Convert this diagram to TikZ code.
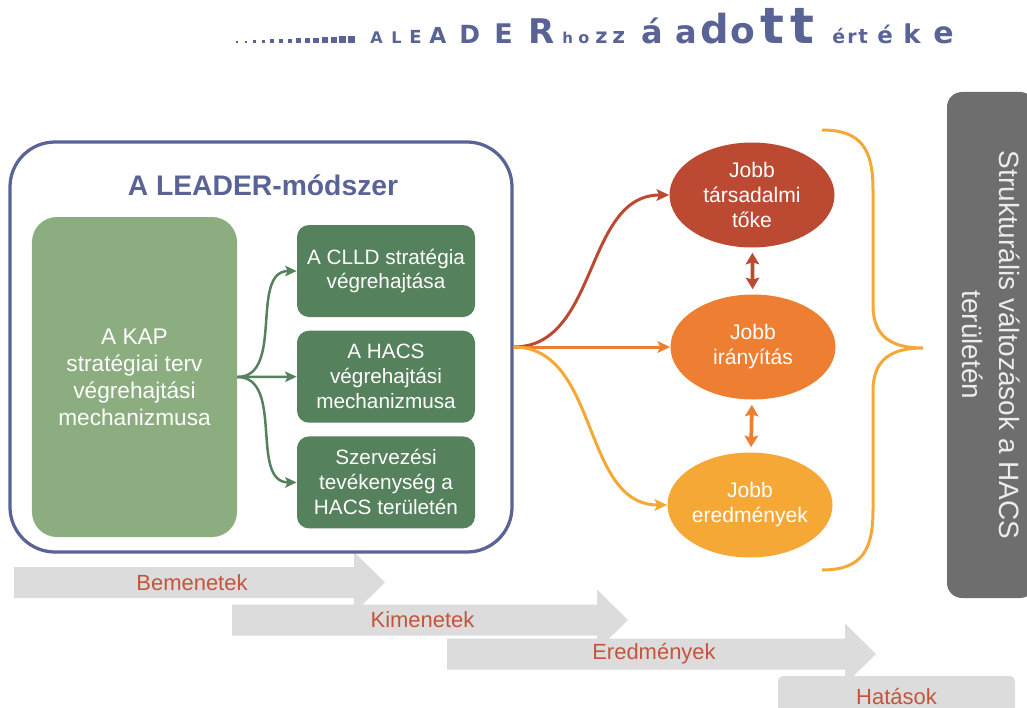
\documentclass[tikz,border=0pt]{standalone}
\usepackage{fontspec}
\setmainfont{Liberation Sans}
\newfontfamily\titlefont{DejaVu Sans}
\usetikzlibrary{shapes.geometric, arrows.meta, positioning, calc}

\definecolor{leaderblue}{RGB}{89, 99, 150}
\definecolor{kapgreen}{RGB}{139, 173, 127}
\definecolor{stepgreen}{RGB}{86, 129, 93}
\definecolor{tokered}{RGB}{188, 74, 51}
\definecolor{iranyorange}{RGB}{238, 126, 49}
\definecolor{eredyellow}{RGB}{245, 168, 53}
\definecolor{hacsgray}{RGB}{110, 110, 110}
\definecolor{hacstext}{RGB}{236, 236, 236}
\definecolor{phasegray}{RGB}{220, 220, 220}
\definecolor{phasered}{RGB}{197, 84, 62}

\begin{document}
\begin{tikzpicture}[
                x=0.2mm, y=-0.2mm,
                method/.style={rectangle, rounded corners=9mm, draw=leaderblue, line width=0.65mm, minimum width=100.4mm, minimum height=82mm, inner sep=0pt},
                methodtitle/.style={text=leaderblue, font=\fontsize{16.1}{19}\selectfont\bfseries},
                kap/.style={rectangle, rounded corners=5mm, fill=kapgreen, text=white, align=center, minimum width=41mm, minimum height=64mm, font=\fontsize{12.9}{15.4}\selectfont},
                stepbox/.style={rectangle, rounded corners=2.4mm, fill=stepgreen, text=white, align=center, minimum width=35.6mm, minimum height=18.4mm, inner sep=1pt, font=\fontsize{11.8}{14.2}\selectfont},
                outcome/.style={ellipse, text=white, align=center, minimum width=33mm, minimum height=21mm, inner sep=0pt, font=\fontsize{12}{14.2}\selectfont},
                hacsbox/.style={rectangle, rounded corners=3mm, fill=hacsgray, text=hacstext, align=center, rotate=-90, minimum width=101.2mm, minimum height=17.6mm, font=\fontsize{15.9}{21}\selectfont},
                phaselabel/.style={text=phasered, font=\fontsize{12.5}{14}\selectfont},
                hatasbox/.style={rectangle, rounded corners=1mm, fill=phasegray, text=phasered, minimum width=47.4mm, minimum height=8.4mm, font=\fontsize{12.5}{14}\selectfont},
                branch/.style={line width=0.5mm, draw=stepgreen, -{Stealth[length=2.3mm, width=2.1mm, inset=0.5mm]}},
                flow/.style={line width=0.6mm, -{Stealth[length=2.5mm, width=2.3mm, inset=0.5mm]}},
                mutual/.style={line width=0.75mm, {Stealth[length=2.3mm, width=2.7mm, inset=0.4mm]}-{Stealth[length=2.3mm, width=2.7mm, inset=0.4mm]}, shorten >=1mm, shorten <=1mm}
            ]%
            \useasboundingbox (0,0) rectangle (1027,708);
            \clip (0,0) rectangle (1027,708);
            %
            % Cím: pontsor és változó méretű betűk
            \foreach \i in {0,...,13}
                \fill[leaderblue] ({236+\i*8.6},43) rectangle ++({2+\i*0.38},{-(2+\i*0.38)});
            \foreach \ch/\xp/\sz [count=\k, evaluate=\sz as \fs using \sz*0.569] in {A/370/16, L/391/16, E/409/18, A/429/22, D/459/25, E/494/27, R/528/34, h/562/15, o/578/16, z/595/21, z/612/22, á/641/32, a/675/32, d/700/40, o/730/36, t/760/50, t/790/50, é/832/19, r/847/19, t/858/20, é/877/23, k/903/26, e/933/30}
                \node[anchor=base west, inner sep=0pt, text=leaderblue, font=\titlefont\fontsize{\fs}{\fs}\selectfont\bfseries] (title\k) at (\xp,43) {\ch};
            %
            % Fázisok (alsó nyilak)
            \foreach \xa/\xb/\yc/\name/\txt in {14/354/582.5/bemenet/Bemenetek, 232/597/620/kimenet/Kimenetek, 447/845/654/eredmeny/Eredmények}{
                \fill[phasegray] (\xa,\yc-15.5) -- (\xb,\yc-15.5) -- (\xb,\yc-30.5) -- (\xb+31,\yc) -- (\xb,\yc+30.5) -- (\xb,\yc+15.5) -- (\xa,\yc+15.5) -- cycle;
                \node[phaselabel] (\name) at ({(\xa+\xb)/2+8},\yc) {\txt};
            }
            \node[hatasbox] (hatas) at (896.5,697) {Hatások};
            %
            % LEADER-módszer
            \node[method] (leader) at (261,347) {};
            \node[methodtitle] (leadertitle) at (263,185) {A LEADER-módszer};
            \node[kap] (kap) at (134.5,377) {A KAP\\stratégiai terv\\végrehajtási\\mechanizmusa};
            \node[stepbox] (clld) at (386,271) {A CLLD stratégia\\végrehajtása};
            \node[stepbox, below=2.6mm of clld] (hacs) {A HACS\\végrehajtási\\mechanizmusa};
            \node[stepbox, below=2.6mm of hacs] (szerv) {Szervezési\\tevékenység a\\HACS területén};
            %
            \draw[branch] (kap.east) to[out=0, in=180] (clld.west);
            \draw[branch] (kap.east) -- (hacs.west);
            \draw[branch] (kap.east) to[out=0, in=180] (szerv.west);
            %
            % Eredmények (ellipszisek)
            \node[outcome, fill=tokered] (toke) at (752,195) {Jobb\\társadalmi\\tőke};
            \node[outcome, fill=iranyorange] (irany) at (753,347) {Jobb\\irányítás};
            \node[outcome, fill=eredyellow] (ered) at (750,505) {Jobb\\eredmények};
            %
            \draw[flow, tokered] (leader.east) to[out=0, in=180] (toke.west);
            \draw[flow, iranyorange] (leader.east) -- (irany.west);
            \draw[flow, eredyellow] (leader.east) to[out=0, in=180] (ered.west);
            \draw[mutual, tokered] (toke) -- (irany);
            \draw[mutual, iranyorange] (irany) -- (ered);
            %
            % Kapcsos zárójel és hatás
            \draw[eredyellow, line width=0.6mm] (822,130) .. controls (862,130) and (873,150) .. (873,190) -- (873,305) .. controls (873,338) and (893,348) .. (923,348) .. controls (893,348) and (873,358) .. (873,391) -- (873,510) .. controls (873,550) and (862,570) .. (822,570);
            \node[hacsbox] (strukt) at (991,345) {Strukturális változások a HACS\\területén};
        \end{tikzpicture}
\end{document}
